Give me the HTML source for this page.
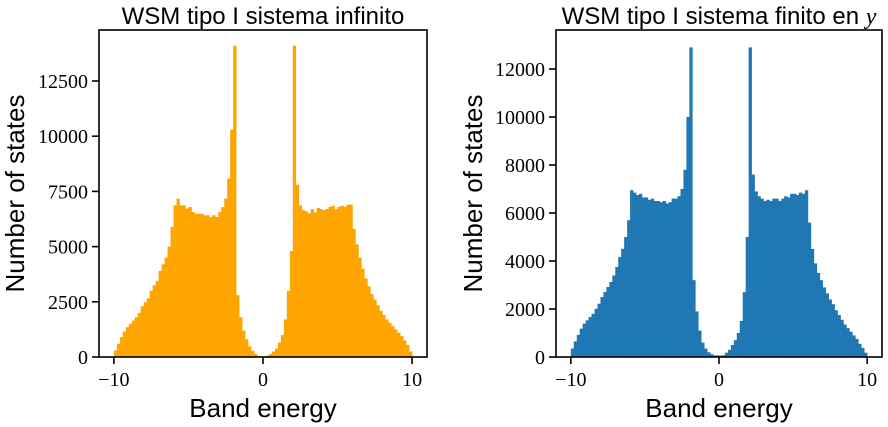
<!DOCTYPE html>
<html><head><meta charset="utf-8">
<style>
html,body{margin:0;padding:0;background:#fff;}
svg{display:block;}
.tick{font-family:"Liberation Serif",serif;font-size:20px;fill:#000;}
.lab{font-family:"Liberation Sans",sans-serif;font-size:26px;fill:#000;}
.ttl{font-family:"Liberation Sans",sans-serif;font-size:24px;fill:#000;}
</style></head>
<body>
<svg id="fig" width="888" height="427" viewBox="0 0 888 427" xmlns="http://www.w3.org/2000/svg"></svg>
<script>
const binStart = -10;
const binWidth = 0.2;
const infiniteCounts = [300,600,900,1150,1350,1500,1650,1800,2000,2300,2480,2650,3000,3250,3450,3900,4200,4500,5000,5900,
6870,7170,6870,6870,6720,6790,6570,6490,6490,6490,6420,6420,6340,6420,6340,6570,6790,7170,8080,10300,
14100,2800,1800,1200,800,480,280,140,50,10,
10,60,130,250,380,650,1000,1700,3000,4800,14100,7800,6870,6650,6600,6500,6700,6550,6750,6700,
6650,6700,6800,6850,6700,6800,6850,6800,6900,6900,5800,5100,4500,4000,3550,3200,2850,2600,2350,2100,
1900,1700,1550,1400,1250,1100,950,750,550,250];
const finiteCounts = [350,650,920,1180,1390,1530,1670,1800,2010,2220,2500,2710,2920,3125,3400,3750,4170,4510,5000,5700,
6950,6850,6750,6800,6650,6650,6550,6600,6500,6500,6450,6500,6400,6450,6600,6600,6700,7000,7800,10000,
12900,3200,1900,1100,600,350,200,120,70,70,
60,70,180,300,500,700,1000,1500,2700,5000,12900,7600,6900,6700,6600,6500,6550,6500,6600,6600,
6500,6600,6700,6650,6800,6800,6750,6850,6800,6950,5600,4500,3900,3500,3200,2900,2650,2400,2200,1950,
1750,1550,1350,1200,1050,900,750,550,380,180];
const xTicks = [-10,0,10];
const yTicksInfinite = [0,2500,5000,7500,10000,12500];
const yTicksFinite = [0,2000,4000,6000,8000,10000,12000];

const NS="http://www.w3.org/2000/svg";
const svg=document.getElementById('fig');
function mk(tag,attrs,parent){const e=document.createElementNS(NS,tag);for(const k in attrs)e.setAttribute(k,attrs[k]);(parent||svg).appendChild(e);return e;}

function drawPanel(cfg){
  const g=mk('g',{});
  
  
  const x=v=>cfg.x0+(v-(-11))*(cfg.x1-cfg.x0)/22;
  const y=v=>cfg.y0-v*(cfg.y0-cfg.y1)/cfg.ymax;
  cfg.counts.forEach((c,i)=>{
    const a=binStart+i*binWidth, b=a+binWidth;
    const r=mk('rect',{x:x(a),y:y(c),width:x(b)-x(a)+0.3,height:cfg.y0-y(c),fill:cfg.color},g);
    
    
  });
  const frame=mk('rect',{x:cfg.x0,y:cfg.y1,width:cfg.x1-cfg.x0,height:cfg.y0-cfg.y1,fill:'none',stroke:'#000','stroke-width':1.6},g);
  
  
  xTicks.forEach(t=>{
    mk('line',{x1:x(t),x2:x(t),y1:cfg.y0,y2:cfg.y0+7,stroke:'#000','stroke-width':1.6},g);
    const tx=mk('text',{x:x(t),y:cfg.y0+29,'text-anchor':'middle',class:'tick'},g);
    tx.textContent=(t<0?'\u2212'+(-t):String(t));
    
    
  });
  cfg.yticks.forEach(t=>{
    mk('line',{x1:cfg.x0-7,x2:cfg.x0,y1:y(t),y2:y(t),stroke:'#000','stroke-width':1.6},g);
    const tx=mk('text',{x:cfg.x0-11,y:y(t)+7,'text-anchor':'end',class:'tick'},g);
    tx.textContent=String(t);
    
    
  });
  const xl=mk('text',{x:(cfg.x0+cfg.x1)/2,y:417,'text-anchor':'middle',class:'lab'},g);
  xl.textContent='Band energy';
  
  
  const yl=mk('text',{x:0,y:0,'text-anchor':'middle',class:'lab',transform:`translate(${cfg.ylabX},${(cfg.y0+cfg.y1)/2}) rotate(-90)`},g);
  yl.textContent='Number of states';
  
  
  const tt=mk('text',{x:(cfg.x0+cfg.x1)/2,y:24,'text-anchor':'middle',class:'ttl'},g);
  tt.textContent=cfg.title;
  if(cfg.titleVar){const ts=mk('tspan',{'font-family':'Liberation Serif, serif','font-style':'italic'},tt);ts.textContent=cfg.titleVar;}
  
  
}
drawPanel({name:'infinite-system-histogram',x0:99,x1:427,y0:357,y1:30,ymax:14810,counts:infiniteCounts,color:'#ffa500',yticks:yTicksInfinite,ylabX:24,title:'WSM tipo I sistema infinito'});
drawPanel({name:'finite-system-histogram',x0:556,x1:882,y0:357,y1:30,ymax:13625,counts:finiteCounts,color:'#1f77b4',yticks:yTicksFinite,ylabX:482,title:'WSM tipo I sistema finito en ',titleVar:'y'});
</script>
</body></html>
